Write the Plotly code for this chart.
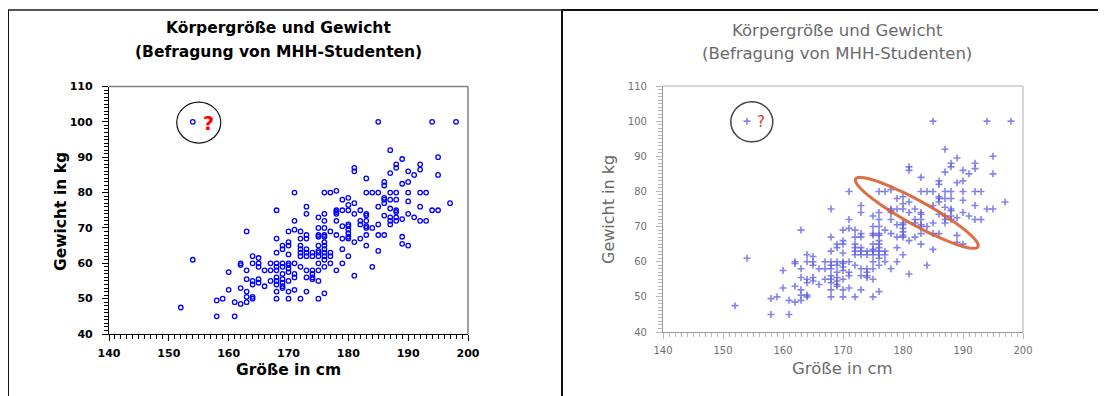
import math
import plotly.graph_objects as go

# ---------------- data ----------------
groesse = [
    154, 154,
    152,
    158, 158,
    159,
    160, 160,
    161, 161,
    162, 162, 162, 162,
    163, 163, 163, 163, 163, 163,
    164, 164, 164, 164, 164, 164,
    165, 165, 165, 165, 165,
    166, 166,
    167, 167, 167,
    168, 168, 168, 168, 168, 168, 168, 168, 168, 168, 168,
    169, 169, 169, 169, 169, 169, 169, 169, 169,
    170, 170, 170, 170, 170, 170, 170, 170, 170, 170, 170,
    171, 171, 171, 171, 171, 171, 171,
    172, 172, 172, 172, 172, 172, 172, 172,
    173, 173, 173, 173, 173, 173, 173, 173, 173, 173,
    174, 174, 174, 174, 174, 174,
    175, 175, 175, 175, 175, 175, 175, 175, 175, 175, 175, 175,
    176, 176, 176, 176, 176, 176, 176, 176, 176, 176, 176, 176, 176, 176,
    177, 177, 177, 177, 177,
    178, 178, 178, 178, 178, 178, 178,
    179, 179, 179, 179, 179, 179,
    180, 180, 180, 180, 180, 180, 180, 180, 180, 180,
    181, 181, 181, 181, 181, 181,
    182, 182, 182, 182,
    183, 183, 183, 183, 183, 183, 183, 183, 183,
    184, 184, 184,
    185, 185, 185, 185, 185, 185,
    186, 186, 186, 186, 186, 186, 186,
    187, 187, 187, 187, 187, 187, 187, 187,
    188, 188, 188, 188, 188, 188, 188, 188,
    189, 189, 189, 189, 189,
    190, 190, 190, 190, 190, 190,
    191, 191,
    192, 192, 192, 192, 192,
    193, 193,
    194, 194,
    195, 195, 195,
    197,
    198,
]
gewicht = [
    100, 61,
    47.5,
    49.5, 45,
    50,
    57.5, 52.5,
    49, 45,
    60, 59.5, 53, 48.5,
    69, 58, 55.5, 52, 50.5, 49,
    62, 60, 55, 54, 50.5, 50,
    61.5, 60, 59, 55.5, 54.5,
    58, 53.5,
    60, 58, 55,
    75, 67, 63, 60, 59, 58, 56, 55, 54, 52, 50,
    65, 64, 60, 59, 57, 55.5, 54.5, 53.5, 53,
    69, 66, 65, 62.5, 60, 59.5, 58.5, 57.5, 55, 52, 50,
    80, 72, 69.5, 60, 57, 56, 52.5,
    69, 67, 65, 64, 63, 62, 59, 50,
    76, 74, 68, 67, 64, 63, 62, 58, 56, 52,
    63, 62, 58, 57, 56, 55.5,
    73, 70, 68, 67.5, 65, 63.5, 63, 62, 60, 58, 55, 50,
    80, 74, 72, 70, 68, 67.5, 66, 65, 64, 63, 62, 61, 59, 51.5,
    80, 69, 63, 62, 60,
    80.5, 75, 74.5, 74, 72, 68, 58,
    78, 75, 70.5, 67, 64, 60,
    78.5, 76.5, 75, 71, 70.5, 69.5, 68.5, 67.5, 67, 62,
    87, 86, 77, 74, 66, 56.5,
    75, 72, 71, 67,
    84, 80, 74, 73.5, 72, 70.5, 70, 68, 65,
    80, 70, 59,
    100, 80, 76, 71, 68, 63.5,
    83, 82, 78.5, 78, 77, 73.5, 68,
    92, 85.5, 80, 78, 75.5, 73, 72, 71,
    88, 87, 80, 78, 75, 74.5, 73, 72,
    89.5, 82.5, 72.5, 67.5, 65.5,
    86, 83, 80, 77.5, 74, 65,
    85, 73,
    88, 86.5, 80, 76, 72,
    80, 72,
    100, 75,
    90, 85, 75,
    77,
    100,
]

titel_1 = "Körpergröße und Gewicht"
titel_2 = "(Befragung von MHH-Studenten)"
x_titel = "Größe in cm"
y_titel = "Gewicht in kg"
x_bereich = [140, 200]
y_bereich = [40, 110]
ausreisser = (154.9, 99.8)          # circled point
ellipse_mitte = (182.3, 73.9)       # highlighted cluster (right panel)

# ---------------- layout geometry ----------------
W, H = 1106, 396
OFF = 8   # page body margin: the figure is drawn 8 px right/down of the window corner
FONT = "DejaVu Sans"

def px_x(p):
    return (p - OFF) / W

def px_y(p):
    return 1 - (p - OFF) / H

L_X = (109, 468)
L_Y = (334, 86.5)
R_X = (663, 1023)
R_Y = (332, 86)

fig = go.Figure()

fig.add_trace(go.Scatter(
    x=groesse, y=gewicht, mode="markers", xaxis="x", yaxis="y",
    marker=dict(symbol="circle-open", size=4.5, color="#0000ff",
                line=dict(width=1.3, color="#0000ff")),
    showlegend=False, hoverinfo="x+y"))

fig.add_trace(go.Scatter(
    x=groesse, y=gewicht, mode="markers", xaxis="x2", yaxis="y2",
    marker=dict(symbol="cross-thin", size=5, color="rgba(80,80,225,0.8)",
                line=dict(width=1.6, color="rgba(80,80,225,0.7)")),
    showlegend=False, hoverinfo="x+y"))


def axis(domain, rng, dtick, color, tickcolor, fontsize, bold, labelcolor, standoff):
    return dict(
        domain=domain, range=rng, dtick=dtick, tick0=rng[0],
        showgrid=False, zeroline=False, automargin=False,
        showline=True, linecolor=color, linewidth=1.2,
        ticks="outside", ticklen=6, tickwidth=1, tickcolor=tickcolor,
        minor=dict(dtick=1, ticks="outside", ticklen=3.5, tickcolor=tickcolor, tickwidth=1),
        tickfont=dict(family=FONT, size=fontsize, color=labelcolor, weight="bold" if bold else "normal"),
        ticklabelstandoff=standoff, fixedrange=True,
    )

fig.update_layout(
    width=W, height=H, margin=dict(l=0, r=0, t=0, b=0, pad=0, autoexpand=False),
    paper_bgcolor="white", plot_bgcolor="white",
    xaxis=dict(**axis([px_x(L_X[0]), px_x(L_X[1])], x_bereich, 10, "black", "black", 11, True, "black", 3),
               anchor="y"),
    yaxis=dict(**axis([px_y(L_Y[0]), px_y(L_Y[1])], y_bereich, 10, "black", "black", 11, True, "black", 7),
               anchor="x"),
    xaxis2=dict(**axis([px_x(R_X[0]), px_x(R_X[1])], x_bereich, 10, "#9a9a9a", "#b8b8b8", 10, False, "#707070", 3),
                anchor="y2"),
    yaxis2=dict(**axis([px_y(R_Y[0]), px_y(R_Y[1])], y_bereich, 10, "#9a9a9a", "#b8b8b8", 10, False, "#707070", 7),
                anchor="x2"),
)

shapes = []
# panel frames
shapes.append(dict(type="line", xref="paper", yref="paper", x0=px_x(7), x1=px_x(562), y0=px_y(10), y1=px_y(10),
                   line=dict(color="#555555", width=2)))
shapes.append(dict(type="line", xref="paper", yref="paper", x0=px_x(562), x1=1, y0=px_y(10), y1=px_y(10),
                   line=dict(color="#111111", width=2)))
shapes.append(dict(type="line", xref="paper", yref="paper", x0=px_x(8), x1=px_x(8), y0=px_y(10), y1=0,
                   line=dict(color="#111111", width=2)))
shapes.append(dict(type="line", xref="paper", yref="paper", x0=px_x(562), x1=px_x(562), y0=px_y(10), y1=0,
                   line=dict(color="#111111", width=2)))
# plot box (top & right, gray)
for (xs, ys, col) in [(L_X, L_Y, "#808080"), (R_X, R_Y, "#c8c8c8")]:
    shapes.append(dict(type="line", xref="paper", yref="paper", x0=px_x(xs[0]), x1=px_x(xs[1]),
                       y0=px_y(ys[1]), y1=px_y(ys[1]), line=dict(color=col, width=1.5)))
    shapes.append(dict(type="line", xref="paper", yref="paper", x0=px_x(xs[1]), x1=px_x(xs[1]),
                       y0=px_y(ys[1]), y1=px_y(ys[0]), line=dict(color=col, width=1.5)))


def scale(xs, ys):
    sx = (xs[1] - xs[0]) / (x_bereich[1] - x_bereich[0])
    sy = (ys[0] - ys[1]) / (y_bereich[1] - y_bereich[0])
    return sx, sy

# circles around the outlier
for (xs, ys, xr, yr, col, w, rx, ry, cx) in [
        (L_X, L_Y, "x", "y", "#111111", 1.2, 22, 20.5, 155.0),
        (R_X, R_Y, "x2", "y2", "#444444", 1.5, 21, 20, 154.8)]:
    sx, sy = scale(xs, ys)
    shapes.append(dict(type="circle", xref=xr, yref=yr,
                       x0=cx - rx / sx, x1=cx + rx / sx,
                       y0=ausreisser[1] - ry / sy, y1=ausreisser[1] + ry / sy,
                       line=dict(color=col, width=w)))

# orange ellipse on the right panel
sx, sy = scale(R_X, R_Y)
a_px, b_px, ang = 70, 12, math.radians(29)
pts = []
for i in range(73):
    t = 2 * math.pi * i / 72
    dx = a_px * math.cos(t) * math.cos(ang) - b_px * math.sin(t) * math.sin(ang)
    dy = a_px * math.cos(t) * math.sin(ang) + b_px * math.sin(t) * math.cos(ang)
    pts.append((ellipse_mitte[0] + dx / sx, ellipse_mitte[1] - dy / sy))
path = "M " + " L ".join(f"{x:.4f},{y:.4f}" for x, y in pts) + " Z"
shapes.append(dict(type="path", xref="x2", yref="y2", path=path,
                   line=dict(color="rgba(215,95,50,0.9)", width=3)))

fig.update_layout(shapes=shapes)


def note(text, x, y, size, color, bold=False, angle=0, xref="paper", yref="paper"):
    return dict(text=text, x=x, y=y, xref=xref, yref=yref, showarrow=False,
                xanchor="center", yanchor="middle", textangle=angle,
                font=dict(family=FONT, size=size, color=color, weight="bold" if bold else "normal"))

ann = [
    note(titel_1, px_x(278), px_y(28), 15.5, "black", True),
    note(titel_2, px_x(278), px_y(52), 15.5, "black", True),
    note(titel_1, px_x(837), px_y(30), 16.5, "#6a6a6a"),
    note(titel_2, px_x(837), px_y(53), 16.5, "#6a6a6a"),
    note(x_titel, px_x(288), px_y(370), 15.5, "black", True),
    note(y_titel, px_x(61), px_y(212), 15.5, "black", True, -90),
    note(x_titel, px_x(842), px_y(368), 16.5, "#6a6a6a"),
    note(y_titel, px_x(609), px_y(210), 16, "#6a6a6a", False, -90),
    note("?", 156.6, 99.6, 19, "#ff0000", True, 0, "x", "y"),
    note("?", 156.3, 99.8, 15, "#dd3333", False, 0, "x2", "y2"),
]
fig.update_layout(annotations=ann)

fig.write_html("out.html")
